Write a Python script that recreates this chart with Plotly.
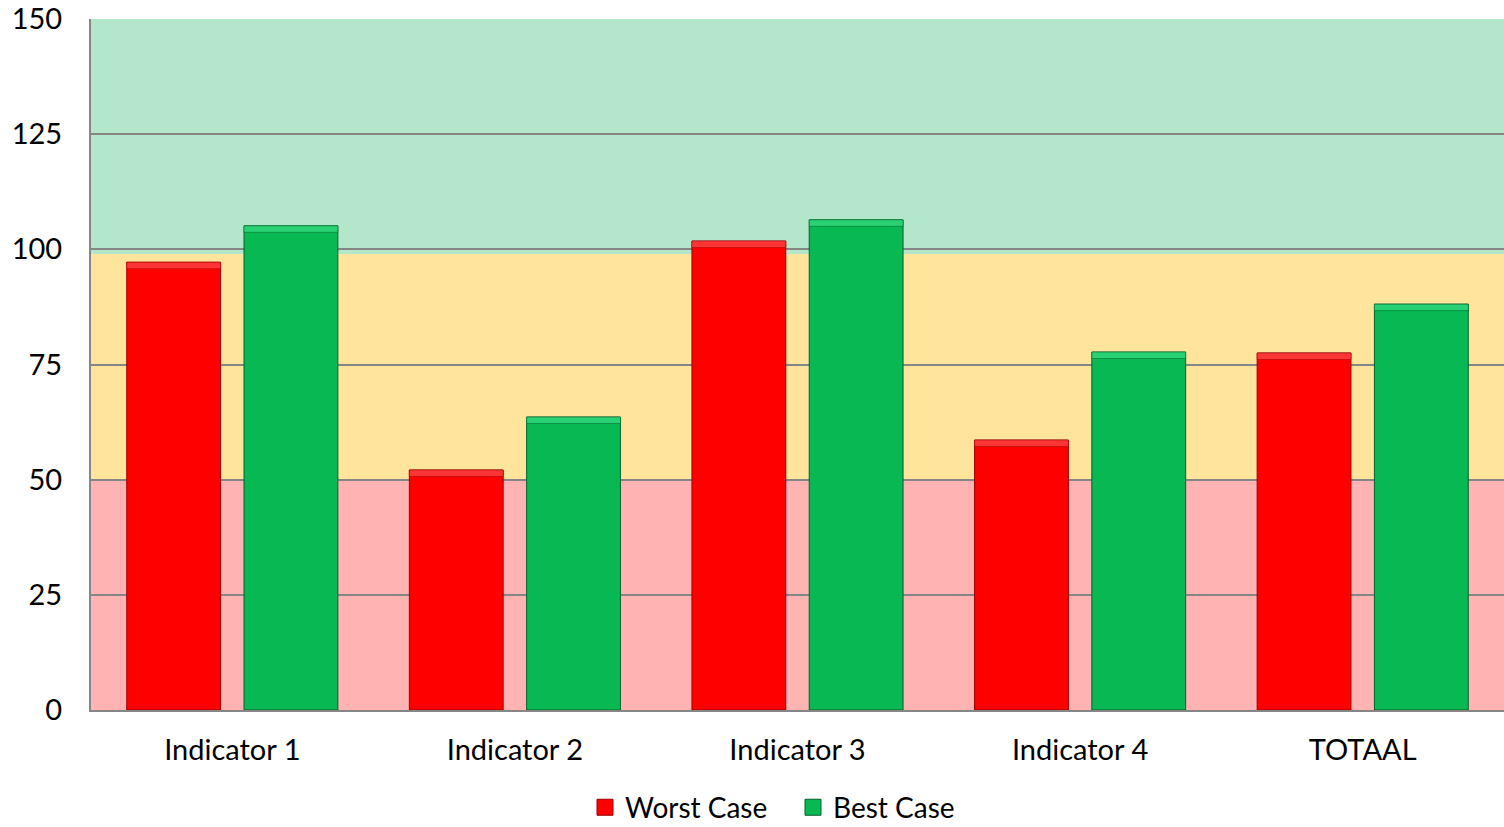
import plotly.graph_objects as go

categories = ["Indicator 1", "Indicator 2", "Indicator 3", "Indicator 4", "TOTAAL"]
worst_case = [97.2, 52.1, 101.8, 58.6, 77.5]
best_case = [105.1, 63.6, 106.4, 77.7, 88.1]

# background zones (low, high, colour)
band_edges = [0, 50, 99, 150]
band_colors = ["#FFB3B3", "#FFE49B", "#B3E6CA"]

RED, RED_EDGE, RED_TOP = "#FF0000", "#9A0000", "#FF3535"
GREEN, GREEN_EDGE, GREEN_TOP = "#07B853", "#04602C", "#28D274"
FONT = "Lato"
BEVEL = 1.4  # height of the lighter top strip, in axis units

fig = go.Figure()

series = [("Worst Case", worst_case, RED, RED_EDGE, RED_TOP),
          ("Best Case", best_case, GREEN, GREEN_EDGE, GREEN_TOP)]

for name, vals, col, edge, top in series:
    fig.add_trace(go.Bar(
        x=categories, y=vals, name=name, showlegend=False, offsetgroup=name,
        marker=dict(color=col, line=dict(color=edge, width=1))))
    # lighter strip on top for the bevel look
    fig.add_trace(go.Bar(
        x=categories, y=[BEVEL] * len(vals), base=[v - BEVEL for v in vals],
        offsetgroup=name, showlegend=False, hoverinfo="skip",
        marker=dict(color=top, line=dict(color=edge, width=0.5))))

# legend entries with bigger square symbols
for name, vals, col, edge, top in series:
    fig.add_trace(go.Scatter(
        x=[None], y=[None], mode="markers", name=name,
        marker=dict(symbol="square", size=17, color=col, line=dict(color=edge, width=1))))

for i, col in enumerate(band_colors):
    fig.add_shape(type="rect", xref="paper", yref="y",
                  x0=0, x1=1, y0=band_edges[i], y1=band_edges[i + 1],
                  fillcolor=col, line=dict(width=0), layer="below")

fig.update_layout(
    width=1504, height=827,
    margin=dict(l=91, r=0, t=19, b=117, autoexpand=False),
    paper_bgcolor="white", plot_bgcolor="white",
    barmode="group", bargap=0.17, bargroupgap=0.2,
    font=dict(family=FONT, size=29, color="black"),
    showlegend=True,
    legend=dict(orientation="h", xref="container", x=585 / 1504, xanchor="left",
                y=-0.105, yanchor="top", font=dict(size=28),
                itemwidth=30, entrywidth=163, traceorder="normal"),
)
fig.update_xaxes(showline=True, linecolor="#868686", linewidth=2, showgrid=False,
                 ticks="", ticklabelstandoff=13, automargin=False)
fig.update_yaxes(range=[0, 150], tick0=0, dtick=25, showgrid=True,
                 gridcolor="#868686", gridwidth=2, showline=True,
                 linecolor="#868686", linewidth=2, zeroline=False,
                 ticks="", ticklabelstandoff=21, automargin=False)

fig.write_html("out.html", config={"displayModeBar": False},
               post_script="document.body.style.margin='0';document.body.style.overflow='hidden';")
